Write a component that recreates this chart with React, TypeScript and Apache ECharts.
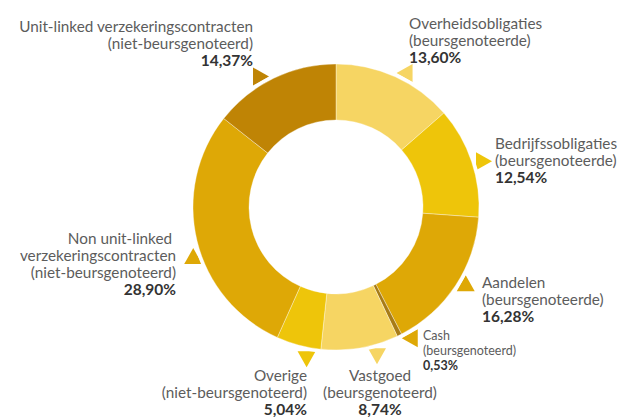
import React, { useEffect, useRef } from "react";
import * as echarts from "echarts";

// ---- data ----
const categories: string[] = [
  "Overheidsobligaties\n(beursgenoteerde)",
  "Bedrijfssobligaties\n(beursgenoteerde)",
  "Aandelen\n(beursgenoteerde)",
  "Cash\n(beursgenoteerd)",
  "Vastgoed\n(beursgenoteerd)",
  "Overige\n(niet-beursgenoteerd)",
  "Non unit-linked \nverzekeringscontracten\n(niet-beursgenoteerd)",
  "Unit-linked verzekeringscontracten\n(niet-beursgenoteerd)",
];
const values: number[] = [13.6, 12.54, 16.28, 0.53, 8.74, 5.04, 28.9, 14.37];

// ---- styles ----
const sliceColors = ["#F6D563", "#EEC50A", "#DEA806", "#A87C16", "#F6D563", "#EEC50A", "#DEA806", "#BF8405"];
const pointerColors = ["#F6D563", "#EEC50A", "#DEA806", "#DEA806", "#F6D563", "#EEC50A", "#DEA806", "#BF8405"];
const pointerDir = ["left", "right", "up", "left", "down", "down", "up", "right"];
const pointerAngleOffset = [3.6, 1, -2, -4, -6, -4, -6.3, -5];
const labelPos: { x: number; y: number; align: string }[] = [
  { x: 409, y: 14, align: "left" },
  { x: 495, y: 134, align: "left" },
  { x: 482, y: 273, align: "left" },
  { x: 423, y: 328, align: "left" },
  { x: 380, y: 366, align: "center" },
  { x: 307, y: 366, align: "right" },
  { x: 176, y: 229, align: "right" },
  { x: 253, y: 17, align: "right" },
];

const CX = 336;
const CY = 207;
const R_IN = 87;
const R_OUT = 143;
const FONT = "Lato, 'Open Sans', sans-serif";

function fmt(v: number): string {
  return v.toFixed(2).replace(".", ",") + "%";
}

function pointerShape(dir: string, cx: number, cy: number): number[][] {
  const h1 = 11, h2 = 5, w = 9;
  switch (dir) {
    case "left":
      return [[cx - h1, cy], [cx + h2, cy - w], [cx + h2, cy + w]];
    case "right":
      return [[cx + h1, cy], [cx - h2, cy - w], [cx - h2, cy + w]];
    case "up":
      return [[cx, cy - h1], [cx - w, cy + h2], [cx + w, cy + h2]];
    default:
      return [[cx, cy + h1], [cx - w, cy - h2], [cx + w, cy - h2]];
  }
}

export default function App() {
  const ref = useRef<HTMLDivElement>(null);
  useEffect(() => {
    if (!ref.current) return;
    const chart = echarts.init(ref.current, null, { renderer: "svg" });
    const total = values.reduce((a, b) => a + b, 0);
    let cum = 0;
    const pointers = values.map((v, i) => {
      const mid = ((cum + v / 2) / total) * 360 + pointerAngleOffset[i];
      cum += v;
      const rad = (mid * Math.PI) / 180;
      const r = 152;
      const px = CX + r * Math.sin(rad);
      const py = CY - r * Math.cos(rad);
      return {
        type: "polygon",
        z: 0,
        silent: true,
        shape: { points: pointerShape(pointerDir[i], px, py) },
        style: { fill: pointerColors[i] },
      };
    });

    const data = categories.map((name, i) => ({
      name,
      value: values[i],
      itemStyle: { color: sliceColors[i] },
      label: { align: labelPos[i].align },
    }));

    chart.setOption({
      animation: false,
      backgroundColor: "#ffffff",
      graphic: { elements: pointers },
      series: [
        {
          type: "pie",
          z: 1,
          silent: true,
          center: [CX, CY],
          radius: [R_OUT, R_OUT + 3.5],
          startAngle: 90,
          label: { show: false },
          labelLine: { show: false },
          emphasis: { disabled: true },
          data: [{ value: 1, itemStyle: { color: "#ffffff" } }],
        },
        {
          type: "pie",
          z: 3,
          center: [CX, CY],
          radius: [R_IN, R_OUT],
          startAngle: 90,
          clockwise: true,
          avoidLabelOverlap: false,
          emphasis: { disabled: true },
          itemStyle: { borderColor: "rgba(255,255,255,0.45)", borderWidth: 0.8 },
          labelLine: { show: false },
          label: {
            show: true,
            position: "outside",
            fontFamily: FONT,
            formatter: (p: any) => {
              const small = p.dataIndex === 3;
              const n = small ? "ns" : "n";
              const b = small ? "bs" : "b";
              const lines = String(p.name).split("\n").map((l: string) => `{${n}|${l}}`);
              return lines.join("\n") + `\n{${b}|${fmt(p.value)}}`;
            },
            rich: {
              n: { fontFamily: FONT, fontSize: 15.3, color: "#5c5c5c", lineHeight: 17 },
              b: { fontFamily: FONT, fontSize: 15.5, fontWeight: "bold", color: "#333333", lineHeight: 17 },
              ns: { fontFamily: FONT, fontSize: 12.5, color: "#5c5c5c", lineHeight: 15 },
              bs: { fontFamily: FONT, fontSize: 12.5, fontWeight: "bold", color: "#333333", lineHeight: 15 },
            },
          },
          labelLayout: (params: any) => {
            const p = labelPos[params.dataIndex];
            return { x: p.x, y: p.y, align: p.align, verticalAlign: "top" };
          },
          data,
        },
      ],
    });
    return () => chart.dispose();
  }, []);
  return (
    <div
      ref={ref}
      style={{ position: "fixed", left: 0, top: 0, width: 619, height: 417 }}
    />
  );
}
